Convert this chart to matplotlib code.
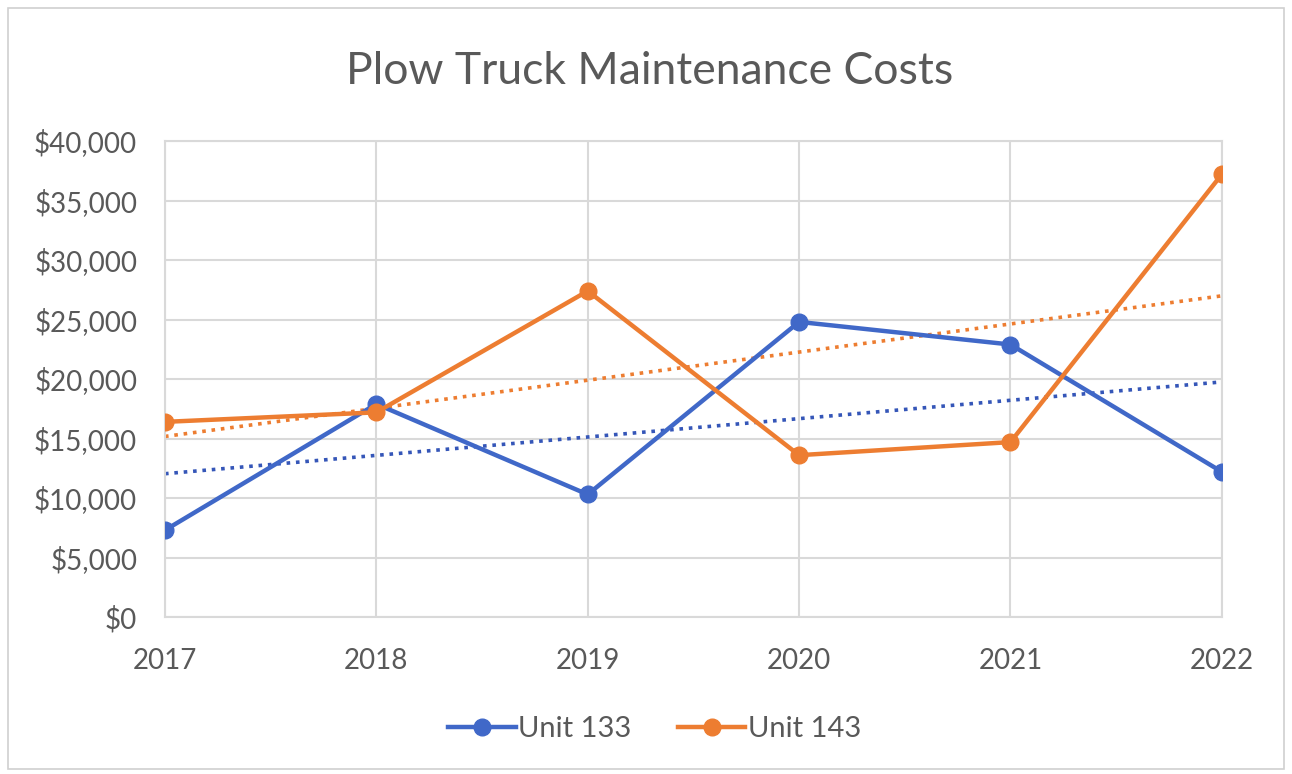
import matplotlib

matplotlib.use("Agg")
import matplotlib.pyplot as plt
import numpy as np
from matplotlib.patches import Rectangle
from matplotlib.ticker import FuncFormatter

years = ["2017", "2018", "2019", "2020", "2021", "2022"]
unit_133 = [7300, 17900, 10300, 24800, 22900, 12200]
unit_143 = [16400, 17200, 27400, 13600, 14700, 37200]

BLUE = "#4068C8"
ORANGE = "#ED7D31"
TEXT = "#595959"
GRID = "#D9D9D9"

plt.rcParams["font.family"] = ["Lato", "DejaVu Sans"]

fig = plt.figure(figsize=(12.92, 7.74), dpi=100)
ax = fig.add_axes([0.1277, 0.2028, 0.818, 0.615])

x = np.arange(len(years))

# linear trendlines (Excel style)
for vals, col in [(unit_133, "#3556B8"), (unit_143, ORANGE)]:
    k, b = np.polyfit(x, vals, 1)
    ax.plot(x, k * x + b, color=col, linestyle=(0, (1, 1.6)), linewidth=2.6, zorder=2)

ax.plot(x, unit_133, color=BLUE, linewidth=3.2, marker="o", markersize=12,
        label="Unit 133", zorder=3)
ax.plot(x, unit_143, color=ORANGE, linewidth=3.2, marker="o", markersize=12,
        label="Unit 143", zorder=3)

ax.set_xlim(0, len(years) - 1)
ax.set_ylim(0, 40000)
ax.set_yticks(np.arange(0, 40001, 5000))
ax.yaxis.set_major_formatter(FuncFormatter(lambda v, _: f"${v:,.0f}"))
ax.set_xticks(x)
ax.set_xticklabels(years)
ax.grid(color=GRID, linewidth=1.5, zorder=0)
for s in ax.spines.values():
    s.set_color(GRID)
    s.set_linewidth(1.5)
ax.tick_params(length=0, labelsize=20, colors=TEXT)
ax.tick_params(axis="y", pad=20)
ax.tick_params(axis="x", pad=22)

fig.text(0.503, 0.908, "Plow Truck Maintenance Costs", ha="center", va="center",
         fontsize=32, color=TEXT)

leg = fig.legend(loc="center", bbox_to_anchor=(0.507, 0.058), ncol=2, frameon=False,
                 fontsize=21, handlelength=2.3, handletextpad=0.1, columnspacing=1.6)
for t in leg.get_texts():
    t.set_color(TEXT)

fig.patches.append(Rectangle((0.006, 0.006), 0.988, 0.984, transform=fig.transFigure,
                             fill=False, edgecolor="#D0D0D0", linewidth=1.2))

fig.savefig("out.png", dpi=100)
